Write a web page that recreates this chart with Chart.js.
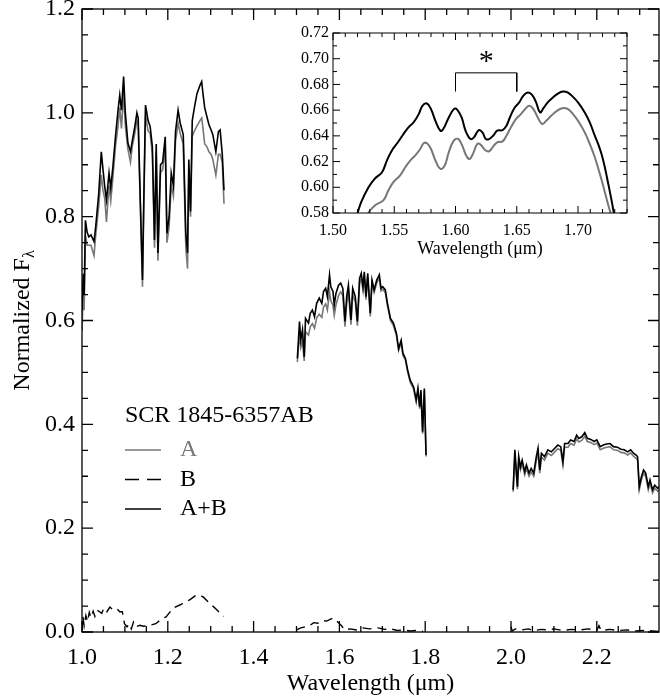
<!DOCTYPE html>
<html>
<head>
<meta charset="utf-8">
<script src="https://cdn.jsdelivr.net/npm/chart.js@4.4.1/dist/chart.umd.min.js"></script>
<style>
  body { margin: 0; background: #fff; }
  #wrap { position: relative; width: 660px; height: 698px; }
  #main { position: absolute; left: 0; top: 0; }
  #inset { position: absolute; left: 275px; top: 20px; }
</style>
</head>
<body>
<div id="wrap">
  <canvas id="main" width="660" height="698"></canvas>
  <canvas id="inset" width="365" height="242"></canvas>
</div>
<script>
const SERIF = '"Liberation Serif", "Times New Roman", serif';
const GREY = '#777777';

// J band (micron, normalized flux)
const jWave = [1.000,1.003,1.005,1.008,1.012,1.016,1.021,1.028,1.032,1.039,1.045,1.049,1.053,1.057,1.063,1.067,1.072,1.078,1.084,1.088,1.092,1.097,1.101,1.107,1.113,1.117,1.123,1.128,1.131,1.134,1.141,1.144,1.148,1.154,1.159,1.164,1.169,1.173,1.177,1.183,1.188,1.194,1.198,1.203,1.208,1.213,1.218,1.224,1.229,1.236,1.242,1.246,1.249,1.253,1.257,1.262,1.268,1.275,1.279,1.282,1.286,1.291,1.296,1.301,1.305,1.312,1.318,1.322,1.327,1.331];
const jAB = [0.620,0.690,0.650,0.793,0.770,0.761,0.765,0.752,0.781,0.845,0.925,0.890,0.858,0.832,0.884,0.855,0.896,0.954,1.005,1.034,1.005,1.070,1.000,0.942,0.925,0.945,0.973,1.000,0.990,0.890,0.678,0.830,1.015,0.985,0.973,0.935,0.755,0.940,0.730,0.900,0.905,0.954,0.768,0.800,0.884,0.860,0.964,1.005,0.980,0.958,0.768,0.730,0.910,0.810,0.985,1.010,1.037,1.053,1.060,1.037,1.010,0.993,0.977,0.967,0.958,0.925,0.964,0.967,0.920,0.851];
const jA = [0.580,0.660,0.620,0.765,0.745,0.745,0.745,0.725,0.765,0.820,0.880,0.850,0.835,0.790,0.860,0.830,0.875,0.935,0.975,1.010,0.970,1.040,0.975,0.930,0.905,0.935,0.960,0.985,0.975,0.880,0.665,0.820,0.995,0.965,0.960,0.920,0.740,0.925,0.715,0.885,0.890,0.940,0.750,0.780,0.860,0.840,0.945,0.980,0.960,0.940,0.740,0.700,0.890,0.800,0.955,0.965,0.975,0.985,0.990,0.970,0.940,0.935,0.925,0.920,0.910,0.880,0.920,0.920,0.905,0.825];

// H band
const hWave = [1.502,1.507,1.510,1.514,1.518,1.521,1.528,1.532,1.537,1.542,1.547,1.553,1.559,1.563,1.568,1.572,1.577,1.580,1.585,1.588,1.592,1.598,1.603,1.608,1.613,1.617,1.621,1.627,1.631,1.637,1.642,1.647,1.651,1.655,1.658,1.662,1.666,1.672,1.676,1.681,1.687,1.693,1.697,1.701,1.707,1.712,1.719,1.726,1.733,1.738,1.744,1.748,1.754,1.759,1.765,1.773,1.779,1.783,1.787,1.790,1.794,1.798,1.802];
const hAB = [0.527,0.598,0.562,0.582,0.530,0.604,0.595,0.614,0.620,0.607,0.633,0.643,0.633,0.656,0.662,0.646,0.688,0.665,0.656,0.630,0.652,0.668,0.672,0.662,0.598,0.646,0.668,0.601,0.662,0.646,0.598,0.681,0.691,0.665,0.694,0.646,0.691,0.614,0.678,0.659,0.678,0.688,0.662,0.665,0.659,0.633,0.604,0.595,0.575,0.546,0.562,0.537,0.527,0.505,0.485,0.472,0.447,0.469,0.434,0.466,0.386,0.469,0.341];
const hA = [0.520,0.575,0.548,0.560,0.522,0.578,0.572,0.588,0.594,0.585,0.605,0.612,0.606,0.626,0.632,0.620,0.655,0.638,0.630,0.610,0.630,0.648,0.655,0.648,0.588,0.632,0.655,0.592,0.650,0.636,0.590,0.670,0.682,0.658,0.686,0.640,0.684,0.608,0.672,0.654,0.672,0.682,0.657,0.660,0.654,0.628,0.600,0.590,0.571,0.542,0.557,0.533,0.523,0.501,0.481,0.468,0.443,0.465,0.430,0.462,0.382,0.465,0.338];

// K band
const kWave = [2.005,2.009,2.015,2.018,2.022,2.026,2.032,2.036,2.042,2.047,2.053,2.059,2.063,2.067,2.071,2.078,2.086,2.094,2.102,2.109,2.116,2.121,2.125,2.133,2.139,2.147,2.153,2.158,2.165,2.172,2.178,2.186,2.194,2.200,2.208,2.215,2.223,2.231,2.239,2.248,2.256,2.264,2.272,2.279,2.286,2.291,2.295,2.299,2.304,2.309,2.314,2.320,2.324,2.330,2.335,2.342,2.345];
const kAB = [0.274,0.351,0.280,0.338,0.318,0.331,0.309,0.322,0.306,0.315,0.306,0.338,0.354,0.312,0.344,0.338,0.351,0.347,0.354,0.360,0.357,0.328,0.363,0.363,0.370,0.367,0.379,0.373,0.376,0.384,0.373,0.371,0.367,0.370,0.357,0.360,0.362,0.363,0.357,0.356,0.352,0.351,0.347,0.351,0.344,0.341,0.338,0.280,0.299,0.312,0.306,0.280,0.293,0.274,0.283,0.277,0.280];
const kA = [0.270,0.340,0.275,0.330,0.312,0.324,0.303,0.315,0.300,0.308,0.300,0.330,0.346,0.306,0.337,0.331,0.344,0.340,0.347,0.353,0.350,0.322,0.356,0.356,0.363,0.360,0.372,0.366,0.369,0.377,0.367,0.365,0.361,0.364,0.351,0.354,0.356,0.357,0.351,0.350,0.346,0.345,0.341,0.345,0.338,0.335,0.332,0.274,0.293,0.306,0.300,0.274,0.287,0.268,0.277,0.271,0.274];

// component B
const bJWave = [1.000,1.002,1.005,1.009,1.013,1.017,1.021,1.026,1.030,1.035,1.041,1.046,1.051,1.058,1.065,1.072,1.081,1.088,1.094,1.099,1.105,1.110,1.115,1.120,1.126,1.135,1.143,1.155,1.172,1.187,1.196,1.212,1.228,1.251,1.266,1.282,1.294,1.310,1.322,1.330];
const bJ = [0.002,0.030,0.012,0.032,0.020,0.038,0.028,0.040,0.030,0.042,0.039,0.036,0.046,0.039,0.048,0.043,0.045,0.039,0.039,0.016,0.010,0.016,0.006,0.019,0.010,0.013,0.011,0.012,0.016,0.026,0.029,0.046,0.052,0.062,0.071,0.068,0.058,0.046,0.036,0.030];
const bHWave = [1.500,1.510,1.520,1.530,1.540,1.550,1.560,1.570,1.585,1.595,1.605,1.612,1.625,1.640,1.655,1.670,1.690,1.705,1.720,1.735,1.750,1.765,1.780,1.795];
const bH = [0.004,0.008,0.010,0.012,0.018,0.017,0.022,0.021,0.027,0.020,0.012,0.004,0.006,0.004,0.008,0.006,0.008,0.005,0.006,0.003,0.004,0.002,0.003,0.001];
const bKWave = [2.000,2.003,2.010,2.025,2.040,2.055,2.070,2.085,2.100,2.120,2.140,2.160,2.180,2.200,2.205,2.210,2.230,2.250,2.270,2.290,2.310,2.330,2.345];
const bK = [0.010,0.002,0.006,0.004,0.006,0.003,0.005,0.004,0.006,0.003,0.005,0.004,0.006,0.003,0.012,0.003,0.005,0.003,0.004,0.002,0.003,0.002,0.001];

// inset, smoothed H band
const insetWaveAB = [1.517,1.520,1.523,1.529,1.534,1.540,1.544,1.548,1.553,1.5575,1.5616,1.5658,1.570,1.573,1.5767,1.580,1.5836,1.5877,1.590,1.5945,1.5986,1.601,1.605,1.6082,1.6123,1.615,1.619,1.622,1.6247,1.6274,1.6307,1.634,1.6384,1.6416,1.6444,1.648,1.652,1.6553,1.659,1.6625,1.6658,1.669,1.6718,1.6753,1.6795,1.6836,1.6877,1.6918,1.6959,1.700,1.7055,1.7096,1.7137,1.7164,1.7192,1.7219,1.7247,1.7274,1.7293,1.731];
const insetAB = [0.572,0.580,0.5885,0.600,0.6066,0.6117,0.6208,0.6285,0.635,0.6414,0.6466,0.6505,0.6569,0.6634,0.6652,0.6608,0.6517,0.644,0.6453,0.6543,0.6608,0.6608,0.6543,0.644,0.6375,0.6388,0.6445,0.6427,0.6375,0.6375,0.6401,0.644,0.6445,0.6479,0.6543,0.6615,0.666,0.6711,0.6737,0.6719,0.666,0.6582,0.6615,0.666,0.6698,0.6729,0.6745,0.6737,0.6703,0.666,0.6582,0.6505,0.6401,0.6337,0.6259,0.6156,0.6027,0.5898,0.580,0.572];
const insetWaveA = [1.526,1.5288,1.5342,1.5411,1.5452,1.5493,1.5548,1.559,1.563,1.567,1.5712,1.574,1.5767,1.580,1.5836,1.5877,1.5912,1.5945,1.5986,1.6022,1.6055,1.6088,1.6115,1.6142,1.6178,1.6205,1.6241,1.6274,1.6307,1.634,1.6384,1.6416,1.6452,1.6493,1.6534,1.6575,1.6603,1.6636,1.6671,1.6707,1.674,1.6781,1.6822,1.6871,1.6918,1.6959,1.700,1.7055,1.7096,1.7137,1.7178,1.7205,1.7233,1.7266,1.729];
const insetA = [0.573,0.580,0.5859,0.5898,0.5975,0.604,0.6092,0.6156,0.6208,0.6246,0.6298,0.6342,0.6342,0.6298,0.6208,0.6143,0.6169,0.6272,0.6363,0.6376,0.6324,0.6246,0.622,0.6259,0.6337,0.6332,0.629,0.628,0.6316,0.635,0.6357,0.6401,0.6466,0.653,0.6569,0.6615,0.6634,0.6608,0.6543,0.6492,0.6517,0.6556,0.659,0.6615,0.6608,0.6569,0.6517,0.6427,0.6337,0.6234,0.6105,0.6014,0.5911,0.580,0.573];
const bracketWave = [1.60, 1.60, 1.65, 1.65];
const bracketVal = [0.6745, 0.689, 0.689, 0.6745];
const starAt = [1.625, 0.6915];

const legendTitle = 'SCR 1845-6357AB';
const legendItems = [
  { label: 'A', color: GREY, dash: [] },
  { label: 'B', color: '#000', dash: [14, 8] },
  { label: 'A+B', color: '#000', dash: [] },
];

const zip = (xs, ys) => xs.map((x, i) => ({ x, y: ys[i] }));
const line = (data, color, width, dash, order, tension) => ({
  data, borderColor: color, borderWidth: width, borderDash: dash || [],
  pointRadius: 0, fill: false, order, tension: tension || 0,
});

// box + inward ticks on all four sides, IDL style
const frameTicks = {
  id: 'frameTicks',
  afterDatasetsDraw(chart, args, o) {
    const { ctx, chartArea: a, scales: { x, y } } = chart;
    ctx.save();
    ctx.strokeStyle = '#000';
    ctx.setLineDash([]);
    ctx.lineWidth = o.lineWidth;
    ctx.strokeRect(a.left, a.top, a.right - a.left, a.bottom - a.top);
    const marks = (scale, minor, major, draw) => {
      const n0 = Math.ceil(scale.min / minor - 1e-6), n1 = Math.floor(scale.max / minor + 1e-6);
      for (let n = n0; n <= n1; n++) {
        const v = n * minor;
        const isMajor = Math.abs(v / major - Math.round(v / major)) < 1e-6;
        draw(scale.getPixelForValue(v), isMajor ? o.majorLen : o.minorLen);
      }
    };
    ctx.beginPath();
    marks(x, o.xMinor, o.xMajor, (p, len) => {
      ctx.moveTo(p, a.bottom); ctx.lineTo(p, a.bottom - len);
      ctx.moveTo(p, a.top); ctx.lineTo(p, a.top + len);
    });
    marks(y, o.yMinor, o.yMajor, (p, len) => {
      ctx.moveTo(a.left, p); ctx.lineTo(a.left + len, p);
      ctx.moveTo(a.right, p); ctx.lineTo(a.right - len, p);
    });
    ctx.stroke();
    ctx.restore();
  }
};

// "Normalized F" with subscript lambda
const yTitle = {
  id: 'yTitle',
  afterDraw(chart, args, o) {
    const { ctx, chartArea: a } = chart;
    ctx.save();
    ctx.translate(o.x, (a.top + a.bottom) / 2);
    ctx.rotate(-Math.PI / 2);
    ctx.fillStyle = '#000';
    ctx.textBaseline = 'alphabetic';
    ctx.font = `24px ${SERIF}`;
    const w1 = ctx.measureText(o.text).width;
    ctx.font = `16px ${SERIF}`;
    const w2 = ctx.measureText(o.sub).width;
    const x0 = -(w1 + w2) / 2;
    ctx.font = `24px ${SERIF}`;
    ctx.fillText(o.text, x0, 8);
    ctx.font = `16px ${SERIF}`;
    ctx.fillText(o.sub, x0 + w1, 13);
    ctx.restore();
  }
};

const legendBox = {
  id: 'legendBox',
  afterDraw(chart) {
    const ctx = chart.ctx;
    ctx.save();
    ctx.font = `24px ${SERIF}`;
    ctx.textBaseline = 'middle';
    ctx.textAlign = 'left';
    ctx.fillStyle = '#000';
    ctx.fillText(legendTitle, 125, 416);
    legendItems.forEach((it, i) => {
      const y = 450 + i * 29.5;
      ctx.strokeStyle = it.color;
      ctx.lineWidth = 1.6;
      ctx.setLineDash(it.dash);
      ctx.beginPath(); ctx.moveTo(125, y); ctx.lineTo(161, y); ctx.stroke();
      ctx.setLineDash([]);
      ctx.fillStyle = it.color;
      ctx.fillText(it.label, 180, y);
    });
    ctx.restore();
  }
};

const starMark = {
  id: 'starMark',
  afterDatasetsDraw(chart) {
    const { ctx, scales: { x, y } } = chart;
    ctx.save();
    ctx.font = `30px ${SERIF}`;
    ctx.textAlign = 'center';
    ctx.textBaseline = 'alphabetic';
    ctx.fillStyle = '#000';
    ctx.fillText('*', x.getPixelForValue(starAt[0]), y.getPixelForValue(starAt[1]));
    ctx.restore();
  }
};

const tickFont = (size) => ({ family: SERIF, size, lineHeight: 1.2 });

new Chart(document.getElementById('main'), {
  type: 'line',
  data: {
    datasets: [
      line(zip(bJWave, bJ), '#000', 1.4, [9, 6], 0),
      line(zip(bHWave, bH), '#000', 1.4, [9, 6], 0),
      line(zip(bKWave, bK), '#000', 1.4, [9, 6], 0),
      line(zip(jWave, jAB), '#000', 1.6, null, 0),
      line(zip(hWave, hAB), '#000', 1.6, null, 0),
      line(zip(kWave, kAB), '#000', 1.6, null, 0),
      line(zip(jWave, jA), GREY, 1.6, null, 1),
      line(zip(hWave, hA), GREY, 1.6, null, 1),
      line(zip(kWave, kA), GREY, 1.6, null, 1),
    ]
  },
  options: {
    responsive: false,
    animation: false,
    devicePixelRatio: 1,
    layout: { padding: { top: 9, right: 1, left: 0, bottom: 0 } },
    scales: {
      x: {
        type: 'linear', min: 1.0, max: 2.345,
        afterFit(s) { s.height = 66; s.paddingLeft = 0; s.paddingRight = 0; },
        grid: { display: false, drawTicks: false },
        border: { display: false },
        ticks: { stepSize: 0.2, includeBounds: false, padding: 11, color: '#000', font: tickFont(24),
                 maxRotation: 0, autoSkip: false, callback: v => v.toFixed(1) },
        title: { display: true, text: 'Wavelength (μm)', color: '#000',
                 font: { family: SERIF, size: 24, lineHeight: 1.15 }, padding: { top: 0, bottom: 0 } }
      },
      y: {
        type: 'linear', min: 0, max: 1.2,
        afterFit(s) { s.width = 82; s.paddingTop = 0; s.paddingBottom = 0; },
        grid: { display: false, drawTicks: false },
        border: { display: false },
        ticks: { stepSize: 0.2, includeBounds: false, padding: 7, color: '#000', font: tickFont(24),
                 autoSkip: false, callback: v => v.toFixed(1) }
      }
    },
    plugins: {
      legend: { display: false },
      tooltip: { enabled: false },
      frameTicks: { lineWidth: 1.3, xMajor: 0.2, xMinor: 0.05, yMajor: 0.2, yMinor: 0.05, majorLen: 11, minorLen: 6 },
      yTitle: { x: 21, text: 'Normalized F', sub: 'λ' }
    }
  },
  plugins: [frameTicks, yTitle, legendBox]
});

new Chart(document.getElementById('inset'), {
  type: 'line',
  data: {
    datasets: [
      line(zip(bracketWave, bracketVal), '#000', 1, null, 0),
      line(zip(insetWaveAB, insetAB), '#000', 2, null, 0, 0.4),
      line(zip(insetWaveA, insetA), GREY, 2, null, 1, 0.4),
    ]
  },
  options: {
    responsive: false,
    animation: false,
    devicePixelRatio: 1,
    layout: { padding: { top: 13, right: 13, left: 0, bottom: 0 } },
    scales: {
      x: {
        type: 'linear', min: 1.50, max: 1.74,
        afterFit(s) { s.height = 49; s.paddingLeft = 0; s.paddingRight = 0; },
        grid: { display: false, drawTicks: false },
        border: { display: false },
        ticks: { stepSize: 0.05, includeBounds: false, padding: 8, color: '#000', font: tickFont(16),
                 maxRotation: 0, autoSkip: false, callback: v => v.toFixed(2) },
        title: { display: true, text: 'Wavelength (μm)', color: '#000',
                 font: { family: SERIF, size: 18, lineHeight: 1.15 }, padding: { top: 0, bottom: 2 } }
      },
      y: {
        type: 'linear', min: 0.58, max: 0.72,
        afterFit(s) { s.width = 58; s.paddingTop = 0; s.paddingBottom = 0; },
        grid: { display: false, drawTicks: false },
        border: { display: false },
        ticks: { stepSize: 0.02, includeBounds: false, padding: 4, color: '#000', font: tickFont(16),
                 autoSkip: false, callback: v => v.toFixed(2) }
      }
    },
    plugins: {
      legend: { display: false },
      tooltip: { enabled: false },
      frameTicks: { lineWidth: 1, xMajor: 0.05, xMinor: 0.01, yMajor: 0.02, yMinor: 0.01, majorLen: 7, minorLen: 4 }
    }
  },
  plugins: [frameTicks, starMark]
});
</script>
</body>
</html>
